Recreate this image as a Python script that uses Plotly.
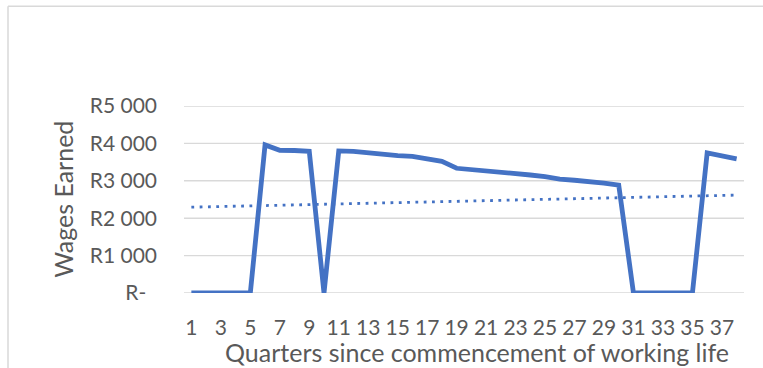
import numpy as np
import plotly.graph_objects as go

# Quarters since the start of working life and the wage earned in each
quarters = list(range(1, 39))
wages = [0, 0, 0, 0, 0, 3960, 3815, 3810, 3790, 0,
         3800, 3785, 3745, 3700, 3675, 3655, 3600, 3520, 3335, 3305,
         3270, 3235, 3200, 3155, 3110, 3045, 3015, 2990, 2940, 2885,
         0, 0, 0, 0, 0, 3745, 3660, 3585]

y_tick_vals = [0, 1000, 2000, 3000, 4000, 5000]
y_tick_text = ["R-\u00a0\u00a0", "R1 000", "R2 000", "R3 000", "R4 000", "R5 000"]
x_tick_vals = list(range(1, 39, 2))

# Linear trend through the wage series
slope, intercept = np.polyfit(quarters, wages, 1)
trend = [slope * q + intercept for q in quarters]

BLUE = "#4472C4"
TEXT = "#595959"
GRID = "#D9D9D9"
FONT = "Lato"

W, H = 763, 368
L, R, T, B = 184, 19, 106, 74.5
pw, ph = W - L - R, H - T - B


def px_to_paper(x, y):
    return (x - L) / pw, (H - B - y) / ph


fig = go.Figure()

# Horizontal gridlines at each y tick
for v in y_tick_vals:
    fig.add_shape(type="line", xref="paper", yref="y", x0=0, x1=1, y0=v, y1=v,
                  line=dict(color=GRID, width=1.4), layer="below")

fig.add_trace(go.Scatter(
    x=quarters, y=wages, mode="lines",
    line=dict(color=BLUE, width=4.8), hoverinfo="skip", showlegend=False,
))
fig.add_trace(go.Scatter(
    x=quarters, y=trend, mode="lines",
    line=dict(color=BLUE, width=2.8, dash="2.8px,5.5px"),
    hoverinfo="skip", showlegend=False,
))

# Chart-area frame (top and left edges)
x0, y0 = px_to_paper(8, 6)
x1, _ = px_to_paper(W + 5, 6)
_, y1 = px_to_paper(8, H + 5)
fig.add_shape(type="line", xref="paper", yref="paper", x0=x0, y0=y0, x1=x1, y1=y0,
              line=dict(color=GRID, width=1.5))
fig.add_shape(type="line", xref="paper", yref="paper", x0=x0, y0=y0, x1=x0, y1=y1,
              line=dict(color=GRID, width=1.5))

# Axis titles
ax, ay = px_to_paper(477, 353)
fig.add_annotation(text="Quarters since commencement of working life",
                   xref="paper", yref="paper", x=ax, y=ay, showarrow=False,
                   xanchor="center", yanchor="middle",
                   font=dict(family=FONT, size=25, color=TEXT))
tx, ty = px_to_paper(63, 200)
fig.add_annotation(text="Wages Earned", textangle=-90,
                   xref="paper", yref="paper", x=tx, y=ty, showarrow=False,
                   xanchor="center", yanchor="middle",
                   font=dict(family=FONT, size=25, color=TEXT))

fig.update_layout(
    width=W, height=H,
    margin=dict(l=L, r=R, t=T, b=B, autoexpand=False),
    paper_bgcolor="white", plot_bgcolor="white",
    font=dict(family=FONT, size=21, color=TEXT),
    xaxis=dict(range=[0.5, 38.5], tickvals=x_tick_vals, showgrid=False,
               zeroline=False, showline=False, ticks="", ticklabelstandoff=20,
               tickfont=dict(family=FONT, size=21, color=TEXT), fixedrange=True),
    yaxis=dict(range=[0, 5000], tickvals=y_tick_vals, ticktext=y_tick_text,
               showgrid=False, zeroline=False,
               showline=False, ticks="", ticklabelstandoff=26,
               tickfont=dict(family=FONT, size=21, color=TEXT), fixedrange=True),
)

fig.write_html("out.html")
